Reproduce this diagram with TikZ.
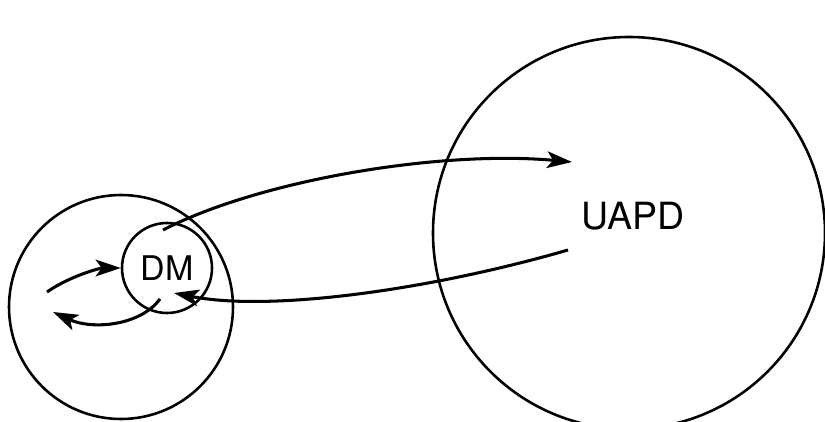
\documentclass[tikz,border=0pt]{standalone}
\usepackage{fontspec}
\setmainfont{TeX Gyre Heros}
\usetikzlibrary{arrows.meta}
\begin{document}
\begin{tikzpicture}[x=0.3mm,y=-0.3mm,
  ring/.style={circle,draw,line width=2.2pt,inner sep=0pt},
  flow/.style={line width=2.6pt,-{Stealth[length=7.5mm,width=5mm,inset=1.8mm]}}]
\useasboundingbox (0,0) rectangle (825,422);
\clip (0,0) rectangle (825,422);
\node[ring,minimum size=67.2mm] (env) at (121,307) {};
\node[ring,minimum size=27mm,font=\fontsize{29}{33}\selectfont] (dm) at (167,268) {DM};
\node[ring,minimum size=117.6mm] (uapdc) at (629,233) {};
\node[font=\fontsize{32}{36}\selectfont] (uapd) at (633,216) {UAPD};
\coordinate (s1) at (163,230);
\coordinate (t1) at (572,162);
\coordinate (s2) at (568,250);
\coordinate (t2) at (174,293);
\coordinate (s3) at (47,292);
\coordinate (s4) at (160,299);
\coordinate (t4) at (53,312);
\draw[flow] (s1) .. controls (260,180) and (440,150) .. (t1);
\draw[flow] (s2) .. controls (430,290) and (270,312) .. (t2);
\draw[flow] (s3) .. controls (70,276) and (100,268) .. (dm.west);
\draw[flow] (s4) .. controls (140,326) and (92,330) .. (t4);
\end{tikzpicture}
\end{document}
